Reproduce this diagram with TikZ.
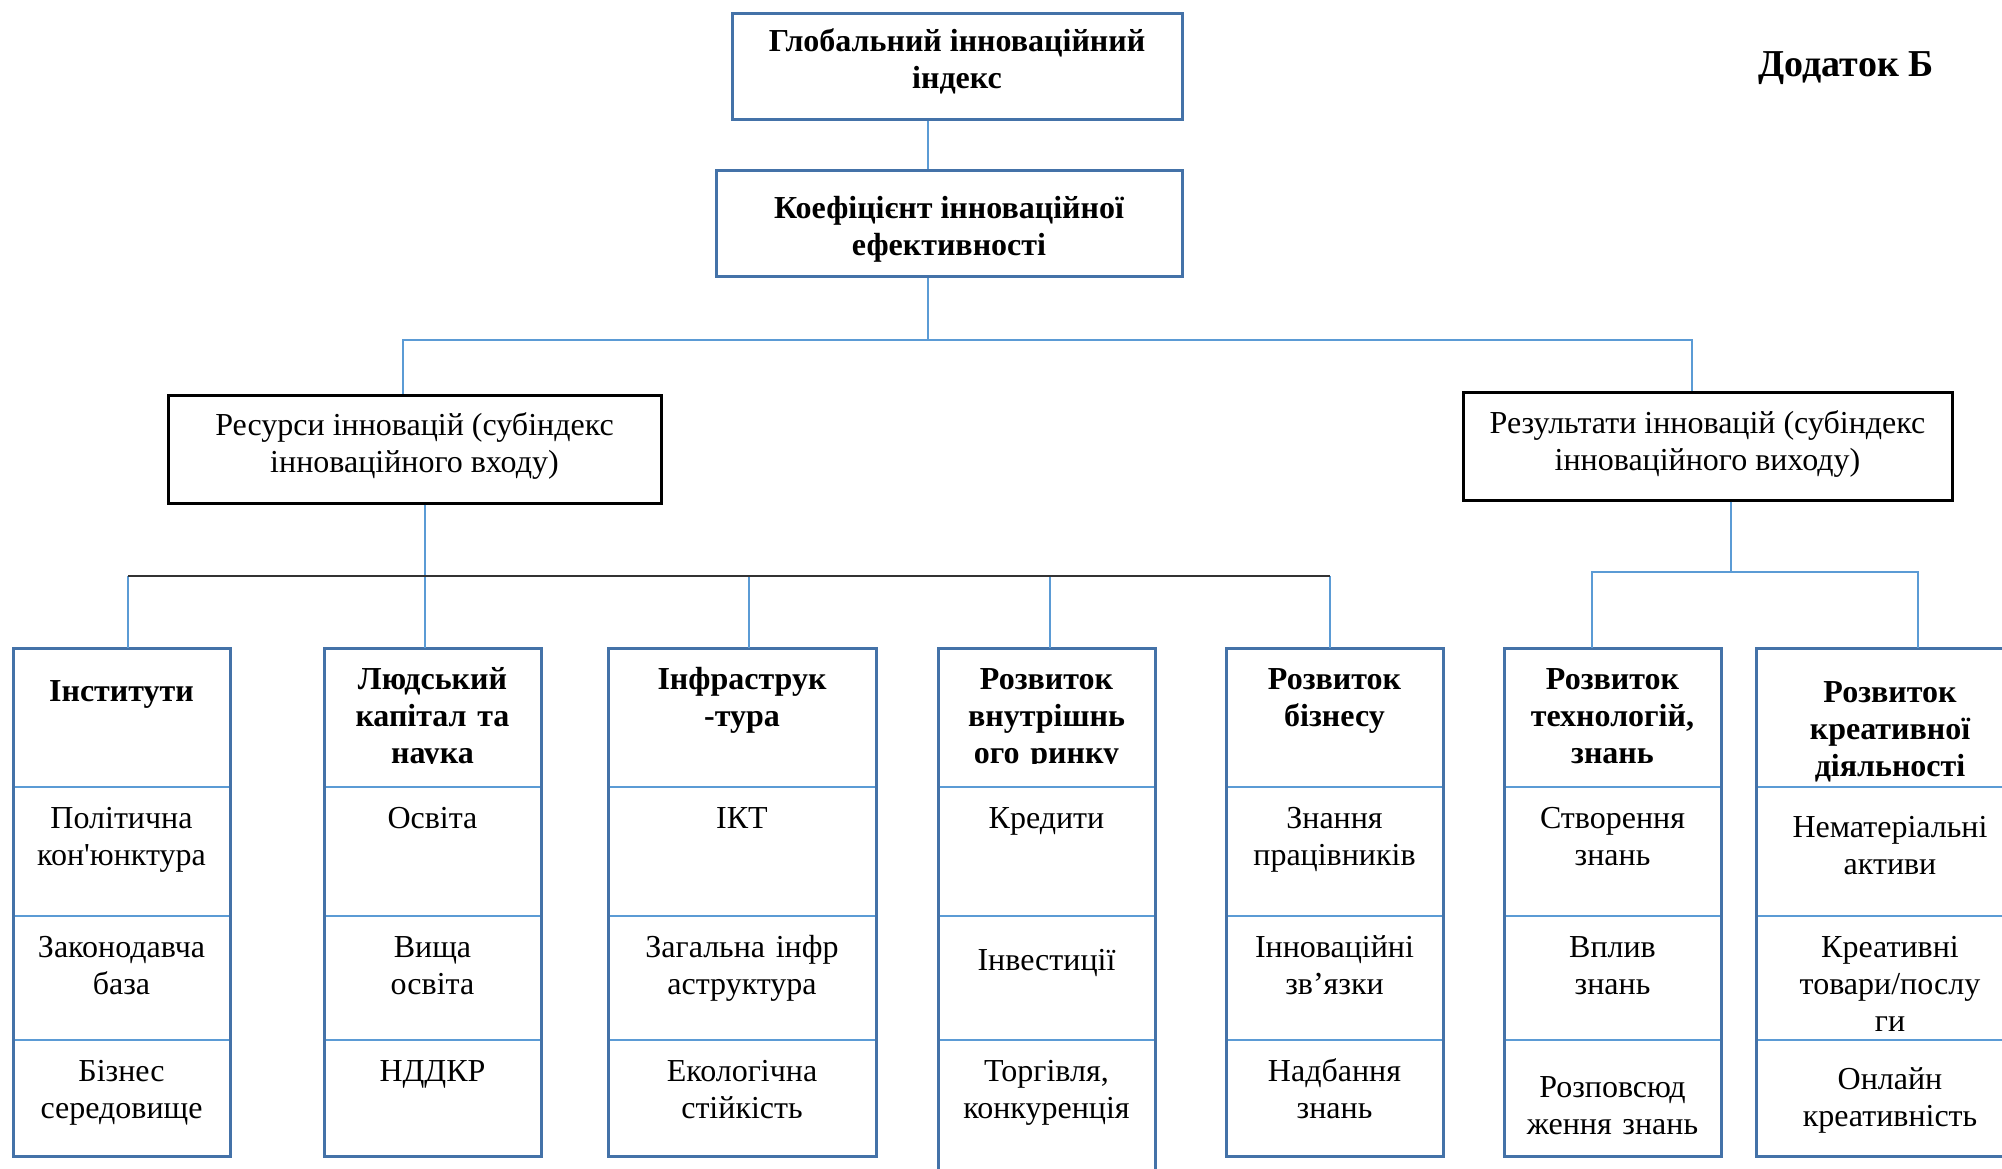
\documentclass[tikz,border=0pt]{standalone}
\usepackage{fontspec}
\setmainfont{Liberation Serif}
\definecolor{boxblue}{HTML}{4472A8}
\definecolor{lineblue}{HTML}{5B9BD5}
\definecolor{busgray}{HTML}{333333}
\newcommand{\txt}{\fontsize{32}{37}\selectfont}

\begin{document}
\begin{tikzpicture}[x=1pt, y=-1pt,
  every node/.style={font=\txt, align=center},
  bluebox/.style={draw=boxblue, line width=3pt, inner ysep=0pt, font=\txt\bfseries},
  blackbox/.style={draw=black, line width=3pt, inner ysep=0pt},
  conn/.style={draw=lineblue, line width=1.5pt},
  bus/.style={draw=busgray, line width=2pt},
  cell/.style={draw=lineblue, line width=2pt, anchor=north west, inner sep=0pt, outer sep=0pt},
  frame/.style={draw=boxblue, line width=3pt},
  wa/.style={text width=217pt}, wb/.style={text width=268pt},
  hdr/.style={text height=41pt, text depth=98pt, font=\txt\bfseries},
  rowa/.style={text height=41pt, text depth=88pt},
  rowb/.style={text height=41pt, text depth=83pt},
  rowc/.style={text height=41pt, text depth=75pt}]
\useasboundingbox (0,0) rectangle (2002,1168);
% upper levels
\node[bluebox, minimum width=450pt, text height=75pt, text depth=31pt] (glob) at (957,66) {Глобальний інноваційний\\індекс};
\node[bluebox, minimum width=466pt, text height=85pt, text depth=21pt] (koef) at (949,223) {Коефіцієнт інноваційної\\ефективності};
\node[blackbox, minimum width=493pt, text height=77pt, text depth=31pt] (res) at (414.5,449) {Ресурси інновацій (субіндекс\\інноваційного входу)};
\node[blackbox, minimum width=489pt, text height=78pt, text depth=30pt] (rez) at (1707.5,446) {Результати інновацій (субіндекс\\інноваційного виходу)};
\node[font=\fontsize{38}{42}\selectfont\bfseries] (dod) at (1846,68) {Додаток Б};
\coordinate (jtop) at (928,340);
\coordinate (jl) at (403,340);
\coordinate (jr) at (1692,340);
\draw[conn] (glob.south -| jtop) -- (koef.north -| jtop);
\draw[conn] (koef.south -| jtop) -- (jtop);
\draw[conn] (res.north -| jl) -- (jl) -- (jr) -- (rez.north -| jr);
% column 1
\node[cell, wa, hdr, text height=53pt, text depth=86pt] (h1) at (13,648) {Інститути};
\node[cell, wa, rowa] (a1) at (13,787) {Політична\\кон\textquotesingle юнктура};
\node[cell, wa, rowb] (b1) at (13,916) {Законодавча\\база};
\node[cell, wa, rowc] (c1) at (13,1040) {Бізнес\\середовище};
\draw[frame] (h1.north west) rectangle (c1.south east);
% column 2
\begin{scope}
\clip (300,640) rectangle (560,763);
\node[cell, wa, hdr] (h2) at (324,648) {Людський\\капітал та\\наука};
\end{scope}
\node[cell, wa, rowa] (a2) at (324,787) {Освіта};
\node[cell, wa, rowb] (b2) at (324,916) {Вища\\освіта};
\node[cell, wa, rowc] (c2) at (324,1040) {НДДКР};
\draw[frame] (h2.north west) rectangle (c2.south east);
% column 3
\node[cell, wb, hdr] (h3) at (608,648) {Інфраструк\\-тура};
\node[cell, wb, rowa] (a3) at (608,787) {ІКТ};
\node[cell, wb, rowb] (b3) at (608,916) {Загальна інфр\\аструктура};
\node[cell, wb, rowc] (c3) at (608,1040) {Екологічна\\стійкість};
\draw[frame] (h3.north west) rectangle (c3.south east);
% column 4
\begin{scope}
\clip (910,640) rectangle (1180,763);
\node[cell, wa, hdr] (h4) at (938,648) {Розвиток\\внутрішнь\\ого ринку};
\end{scope}
\node[cell, wa, rowa] (a4) at (938,787) {Кредити};
\node[cell, wa, rowb, text height=54pt, text depth=70pt] (b4) at (938,916) {Інвестиції};
\node[cell, wa, rowc, text depth=94pt] (c4) at (938,1040) {Торгівля,\\конкуренція};
\draw[frame] (h4.north west) rectangle (c4.south east);
% column 5
\node[cell, wa, hdr] (h5) at (1226,648) {Розвиток\\бізнесу};
\node[cell, wa, rowa] (a5) at (1226,787) {Знання\\працівників};
\node[cell, wa, rowb] (b5) at (1226,916) {Інноваційні\\зв’язки};
\node[cell, wa, rowc] (c5) at (1226,1040) {Надбання\\знань};
\draw[frame] (h5.north west) rectangle (c5.south east);
% column 6
\node[cell, wa, hdr] (h6) at (1504,648) {Розвиток\\технологій,\\знань};
\node[cell, wa, rowa] (a6) at (1504,787) {Створення\\знань};
\node[cell, wa, rowb] (b6) at (1504,916) {Вплив\\знань};
\node[cell, wa, rowc, text height=57pt, text depth=59pt] (c6) at (1504,1040) {Розповсюд\\ження знань};
\draw[frame] (h6.north west) rectangle (c6.south east);
% column 7
\node[cell, wb, hdr, text height=54pt, text depth=85pt] (h7) at (1756,648) {Розвиток\\креативної\\діяльності};
\node[cell, wb, rowa, text height=50pt, text depth=79pt] (a7) at (1756,787) {Нематеріальні\\активи};
\node[cell, wb, rowb] (b7) at (1756,916) {Креативні\\товари/послу\\ги};
\node[cell, wb, rowc, text height=49pt, text depth=67pt] (c7) at (1756,1040) {Онлайн\\креативність};
\draw[frame] (h7.north west) rectangle (c7.south east);
% input branch
\coordinate (bus1) at (128,576);
\coordinate (bus2) at (425,576);
\coordinate (bus3) at (749,576);
\coordinate (bus4) at (1050,576);
\coordinate (bus5) at (1330,576);
\draw[conn] (res.south -| bus2) -- (h2.north -| bus2);
\draw[conn] (bus1) -- (h1.north -| bus1);
\draw[conn] (bus3) -- (h3.north -| bus3);
\draw[conn] (bus4) -- (h4.north -| bus4);
\draw[conn] (bus5) -- (h5.north -| bus5);
\draw[bus] (bus1) -- (bus5);
% output branch
\coordinate (out0) at (1731,572);
\coordinate (out6) at (1592,572);
\coordinate (out7) at (1918,572);
\draw[conn] (rez.south -| out0) -- (out0);
\draw[conn] (h6.north -| out6) |- (out7) -- (h7.north -| out7);
\end{tikzpicture}
\end{document}
